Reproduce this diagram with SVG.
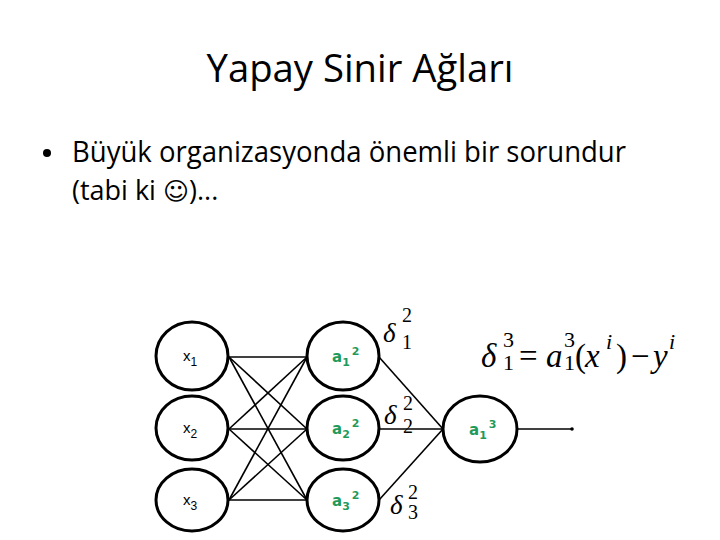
<svg xmlns="http://www.w3.org/2000/svg" width="720" height="540" viewBox="0 0 720 540">
<style>
.node{fill:#fff;stroke:#000;stroke-width:3}
.conn line{stroke:#000;stroke-width:1.6}
.lbl{font-family:"Liberation Sans",Arial,sans-serif;font-size:15px;fill:#000}
.g{font-family:"DejaVu Sans","Liberation Sans",sans-serif;font-size:15px;font-weight:bold;fill:#1f9a5a}
.m{font-family:"Liberation Serif","Times New Roman",serif;fill:#000}
.t{font-family:"Open Sans","Liberation Sans",sans-serif;fill:#000}
</style>
<rect width="720" height="540" fill="#fff"/>
<text class="t" x="360" y="82" font-size="38" text-anchor="middle" textLength="307" lengthAdjust="spacingAndGlyphs">Yapay Sinir Ağları</text>
<circle cx="47" cy="153" r="4" fill="#000"/>
<text class="t" x="72" y="162" font-size="29" textLength="554" lengthAdjust="spacingAndGlyphs">Büyük organizasyonda önemli bir sorundur</text>
<text class="t" x="72" y="200" font-size="27">(tabi ki <tspan font-family="DejaVu Sans,sans-serif" font-size="25">☺</tspan>)...</text>
<g class="conn" id="connectors">
<line x1="229" y1="357" x2="307" y2="357"/>
<line x1="229" y1="357" x2="307" y2="429"/>
<line x1="229" y1="357" x2="307" y2="500"/>
<line x1="229" y1="429" x2="307" y2="357"/>
<line x1="229" y1="429" x2="307" y2="429"/>
<line x1="229" y1="429" x2="307" y2="500"/>
<line x1="229" y1="500" x2="307" y2="357"/>
<line x1="229" y1="500" x2="307" y2="429"/>
<line x1="229" y1="500" x2="307" y2="500"/>
<line x1="379" y1="357" x2="443" y2="429"/>
<line x1="379" y1="429" x2="443" y2="429"/>
<line x1="379" y1="500" x2="443" y2="429"/>
<line x1="516" y1="429" x2="572" y2="429"/>
<circle cx="572" cy="429" r="1.8" fill="#000"/>
</g>
<g id="x1"><ellipse class="node" cx="192" cy="356" rx="36" ry="34"/><text class="lbl" x="183" y="361">x<tspan font-size="12" dy="5">1</tspan></text></g>
<g id="x2"><ellipse class="node" cx="192" cy="428" rx="36" ry="32"/><text class="lbl" x="183" y="433">x<tspan font-size="12" dy="5">2</tspan></text></g>
<g id="x3"><ellipse class="node" cx="192" cy="500" rx="36" ry="31"/><text class="lbl" x="183" y="505">x<tspan font-size="12" dy="5">3</tspan></text></g>
<g id="a12"><ellipse class="node" cx="343" cy="356" rx="36" ry="34"/><text class="g" x="332" y="362">a<tspan font-size="11" dy="4">1</tspan><tspan font-size="11" dx="2" dy="-11">2</tspan></text></g>
<g id="a22"><ellipse class="node" cx="343" cy="428" rx="36" ry="32"/><text class="g" x="332" y="434">a<tspan font-size="11" dy="4">2</tspan><tspan font-size="11" dx="2" dy="-11">2</tspan></text></g>
<g id="a32"><ellipse class="node" cx="343" cy="500" rx="36" ry="31"/><text class="g" x="332" y="506">a<tspan font-size="11" dy="4">3</tspan><tspan font-size="11" dx="2" dy="-11">2</tspan></text></g>
<g id="a13"><ellipse class="node" cx="480" cy="429" rx="37" ry="33"/><text class="g" x="469" y="435">a<tspan font-size="11" dy="4">1</tspan><tspan font-size="11" dx="2" dy="-11">3</tspan></text></g>
<g id="deltas" class="m">
<text x="383" y="342" font-size="27" font-style="italic">δ</text>
<text x="402" y="322" font-size="20">2</text><text x="402" y="349" font-size="20">1</text>
<text x="384" y="424" font-size="27" font-style="italic">δ</text>
<text x="403" y="410" font-size="20">2</text><text x="403" y="433" font-size="20">2</text>
<text x="390" y="514" font-size="27" font-style="italic">δ</text>
<text x="408" y="499" font-size="20">2</text><text x="408" y="519" font-size="20">3</text>
</g>
<g id="formula" class="m">
<text x="481" y="367" font-size="33" font-style="italic">δ</text>
<text x="503" y="347" font-size="22">3</text><text x="503" y="370" font-size="22">1</text>
<text x="519" y="367" font-size="33">=</text>
<text x="546" y="367" font-size="33" font-style="italic">a</text>
<text x="564" y="347" font-size="22">3</text><text x="564" y="370" font-size="22">1</text>
<text x="575" y="367" font-size="33">(</text>
<text x="585" y="367" font-size="33" font-style="italic">x</text>
<text x="606" y="349" font-size="22" font-style="italic">i</text>
<text x="616" y="367" font-size="33">)</text>
<text x="631" y="367" font-size="33">−</text>
<text x="653" y="367" font-size="33" font-style="italic">y</text>
<text x="669" y="349" font-size="22" font-style="italic">i</text>
</g>
</svg>
